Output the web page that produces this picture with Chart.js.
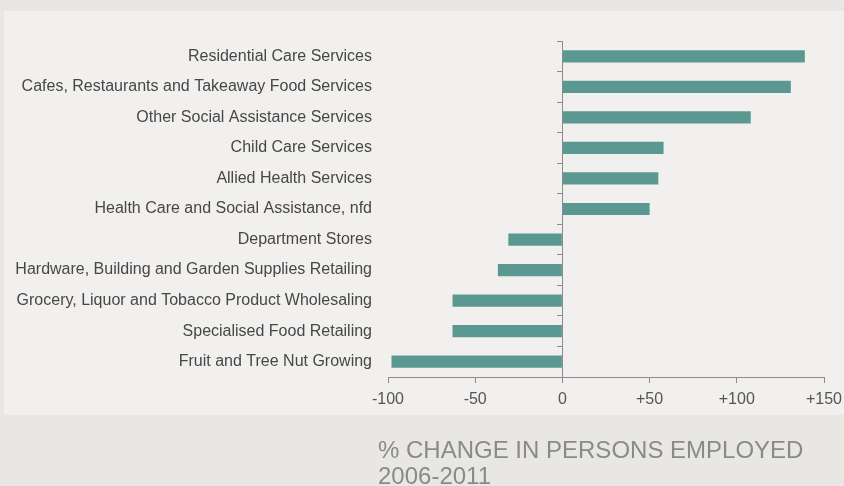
<!DOCTYPE html>
<html>
<head>
<meta charset="utf-8">
<script src="https://cdn.jsdelivr.net/npm/chart.js@4"></script>
<style>
  html, body { margin: 0; padding: 0; background: #e8e7e3; width: 844px; height: 486px; overflow: hidden; }
  #panel { position: absolute; left: 4px; top: 11px; width: 840px; height: 404px; background: #f1f0ee; }
  #wrap { position: absolute; left: 0; top: 0; width: 844px; height: 486px; }
  #title { position: absolute; left: 378px; top: 437px; font-family: "Liberation Sans", Arial, sans-serif; font-size: 24px; line-height: 26px; color: #8a8a8a; white-space: nowrap; }
</style>
</head>
<body>
<div id="panel"></div>
<div id="wrap"><canvas id="c" width="844" height="486"></canvas></div>
<div id="title">% CHANGE IN PERSONS EMPLOYED<br>2006-2011</div>
<script>
const categories = [
  "Residential Care Services",
  "Cafes, Restaurants and Takeaway Food Services",
  "Other Social Assistance Services",
  "Child Care Services",
  "Allied Health Services",
  "Health Care and Social Assistance, nfd",
  "Department Stores",
  "Hardware, Building and Garden Supplies Retailing",
  "Grocery, Liquor and Tobacco Product Wholesaling",
  "Specialised Food Retailing",
  "Fruit and Tree Nut Growing"
];
const changeValues = [139, 131, 108, 58, 55, 50, -31, -37, -63, -63, -98];
const xMin = -100;
const xMax = 150;
const xStep = 50;

const font = { family: "'Liberation Sans', Arial, sans-serif", size: 16 };

new Chart(document.getElementById('c'), {
  type: 'bar',
  data: {
    labels: categories,
    datasets: [{
      data: changeValues,
      backgroundColor: '#5c9892',
      borderWidth: 0,
      barPercentage: 0.8,
      categoryPercentage: 0.5,
      yAxisID: 'y'
    }]
  },
  options: {
    indexAxis: 'y',
    responsive: false,
    devicePixelRatio: 1,
    animation: false,
    layout: { padding: { top: 41, right: 20, bottom: 69, left: 0 } },
    plugins: { legend: { display: false }, tooltip: { enabled: false } },
    scales: {
      x: {
        type: 'linear',
        min: xMin, max: xMax,
        position: 'bottom',
        ticks: {
          stepSize: xStep,
          color: '#555',
          font: font,
          padding: 7,
          maxRotation: 0,
          callback: v => (v > 0 ? '+' + v : String(v))
        },
        grid: { drawOnChartArea: false, drawTicks: true, tickLength: 6, color: '#8c8c8c' },
        border: { display: true, color: '#8c8c8c', width: 1 },
        afterFit: s => { s.height = 40; s.paddingLeft = 0; s.paddingRight = 0; }
      },
      y: {
        type: 'category',
        position: { x: 0 },
        offset: true,
        ticks: { display: false },
        grid: { drawOnChartArea: false, drawTicks: true, tickLength: 5, color: '#8c8c8c', offset: true },
        border: { display: true, color: '#8c8c8c', width: 1 }
      },
      y2: {
        type: 'category',
        position: 'left',
        offset: true,
        ticks: { color: '#474747', font: font, padding: 16 },
        grid: { display: false, drawTicks: false },
        border: { display: false },
        afterFit: s => { s.width = 388; }
      }
    }
  }
});
</script>
</body>
</html>
